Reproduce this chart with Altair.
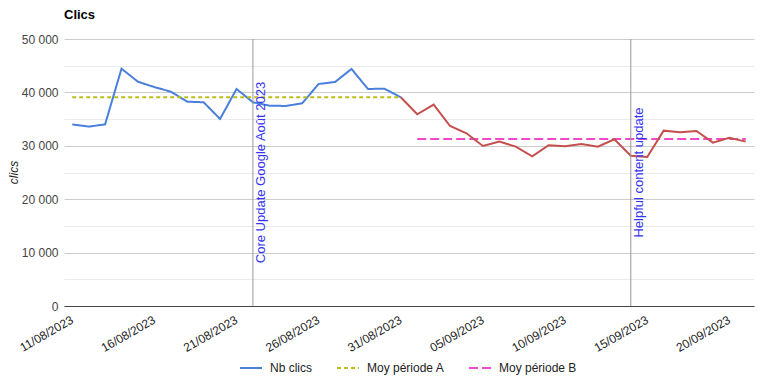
import altair as alt
import pandas as pd

# ---- data ----
start_date = "2023-08-11"
n_days = 42
clics = [34000, 33600, 34000, 44450, 42000, 41000, 40140, 38270, 38150, 35030,
         40640, 38150, 37520, 37460, 37960, 41580, 41950, 44390, 40640, 40700,
         39090, 35900, 37700, 33710, 32340, 29970, 30780, 29840, 28040, 30100,
         29910, 30340, 29840, 31220, 28150, 27910, 32840, 32530, 32780, 30590,
         31520, 30780]
split_index = 20  # last point of period A (31/08)

avg_names = ["Moy période A", "Moy période B"]
avg_values = [39080, 31280]
avg_start = ["2023-08-11", "2023-09-01"]
avg_end = ["2023-08-31", "2023-09-21"]

event_dates = ["2023-08-22", "2023-09-14"]
event_labels = ["Core Update Google Août 2023", "Helpful content update"]

tick_dates = ["2023-08-11", "2023-08-16", "2023-08-21", "2023-08-26", "2023-08-31",
              "2023-09-05", "2023-09-10", "2023-09-15", "2023-09-20"]

series_names = ["Nb clics", "Moy période A", "Moy période B"]
series_colors = ["#4a80dc", "#bcbc1c", "#f048c8"]
series_dash = [[1, 0], [4, 3], [9, 4]]
red_color = "#c4504e"

FONT = "Arial, Liberation Sans, sans-serif"

# ---- tables ----
dates = pd.date_range(start_date, periods=n_days, freq="D")
df = pd.DataFrame({"date": dates.strftime("%Y-%m-%d"), "clics": clics})
df_a = df.iloc[: split_index + 1].copy()
df_a["series"] = "Nb clics"
df_b = df.iloc[split_index:].copy()

avg_rows = []
for name, v, s, e in zip(avg_names, avg_values, avg_start, avg_end):
    avg_rows.append({"date": s, "clics": v, "series": name})
    avg_rows.append({"date": e, "clics": v, "series": name})
df_avg = pd.DataFrame(avg_rows)

df_ev = pd.DataFrame({"date": event_dates, "label": event_labels})


def dt(s, hours=0):
    y, m, d = [int(p) for p in s.split("-")]
    return alt.DateTime(year=y, month=m, date=d, hours=hours, utc=True)


x_scale = alt.Scale(type="utc", domain=[dt("2023-08-10", 12), dt("2023-09-21", 12)])
y_scale = alt.Scale(domain=[0, 50000], nice=False)

x_axis = alt.Axis(
    values=[dt(t) for t in tick_dates],
    labelExpr="utcFormat(datum.value, '%d/%m/%Y')",
    labelAngle=-30, labelAlign="right", labelBaseline="top", labelPadding=8,
    labelOffset=-3,
    ticks=False, tickSize=0, grid=False, domain=True, domainColor="#444",
    labelFontSize=12, labelColor="#222", labelFont=FONT, title=None,
    labelOverlap=False,
)
y_axis = alt.Axis(
    values=list(range(0, 50001, 5000)),
    labelExpr="datum.value % 10000 === 0 ? replace(format(datum.value, ','), ',', ' ') : ''",
    ticks=False, domain=False, grid=True,
    gridColor={"condition": {"test": "datum.value % 10000 === 0", "value": "#cccccc"},
               "value": "#ebebeb"},
    labelFontSize=12, labelColor="#444", labelFont=FONT, labelPadding=6,
    title="clics", titleFont=FONT, titleFontSize=12, titleFontWeight="normal",
    titleFontStyle="italic", titleColor="#222", titleAngle=-90,
    titleX=-51, titleY=133, titleAlign="center", titleBaseline="middle",
    labelOverlap=False,
)

color_scale = alt.Scale(domain=series_names, range=series_colors)
dash_scale = alt.Scale(domain=series_names, range=series_dash)
legend = alt.Legend(
    orient="none", legendX=175, legendY=317, direction="horizontal", title=None,
    symbolType="stroke", symbolSize=484, symbolStrokeWidth=2, labelOffset=7,
    columnPadding=20, labelFontSize=12, labelColor="#222", labelFont=FONT,
)

x_enc = alt.X("date:T", scale=x_scale, axis=x_axis)
y_enc = alt.Y("clics:Q", scale=y_scale, axis=y_axis)

line_a = alt.Chart(df_a).mark_line(strokeWidth=2).encode(
    x=x_enc, y=y_enc,
    color=alt.Color("series:N", scale=color_scale, legend=legend),
    strokeDash=alt.StrokeDash("series:N", scale=dash_scale, legend=legend),
)
line_b = alt.Chart(df_b).mark_line(strokeWidth=2, color=red_color).encode(
    x=x_enc, y=y_enc,
)
avg = alt.Chart(df_avg).mark_line(strokeWidth=2).encode(
    x=x_enc, y=y_enc,
    color=alt.Color("series:N", scale=color_scale, legend=legend),
    strokeDash=alt.StrokeDash("series:N", scale=dash_scale, legend=legend),
    detail="series:N",
)
rules = alt.Chart(df_ev).mark_rule(color="#999999", strokeWidth=1).encode(x=x_enc)
texts = alt.Chart(df_ev).mark_text(
    angle=270, align="center", baseline="top", dy=2, fontSize=13,
    font=FONT, color="#3434f4",
).encode(x=x_enc, y=alt.value(133.5), text="label:N")

chart = alt.layer(line_a, avg, line_b, rules, texts).properties(
    width=690, height=267,
    autosize="none",
    padding={"left": 56, "top": 31, "right": 5, "bottom": 72},
    title=alt.TitleParams("Clics", anchor="start", frame="group", fontSize=13,
                          fontWeight="bold", font=FONT, color="#000", offset=11),
).resolve_scale(color="shared").configure_view(stroke=None)

chart.save("out.html", embed_options={"renderer": "svg", "actions": False})
